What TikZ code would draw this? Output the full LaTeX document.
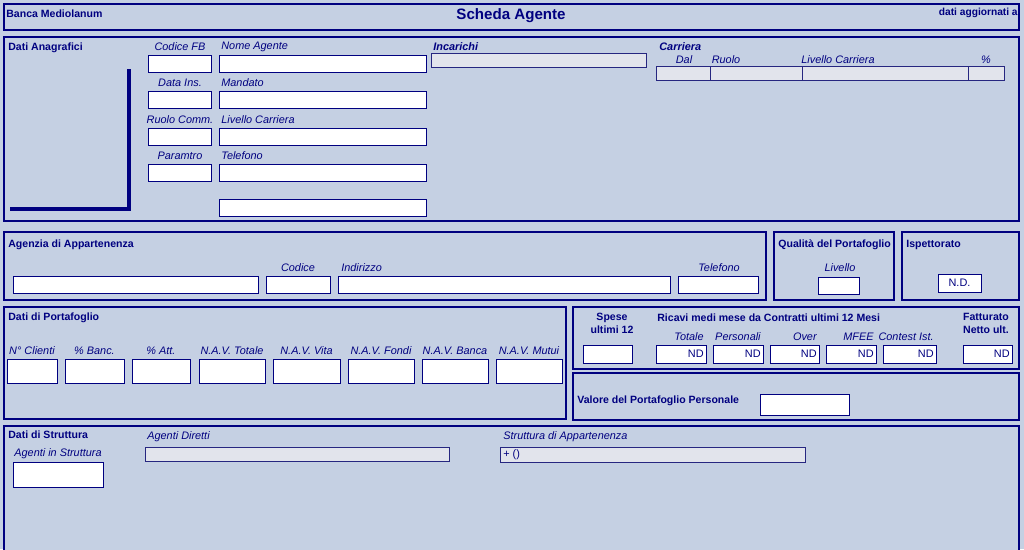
\documentclass[tikz,border=0pt]{standalone}
\usepackage{fontspec}
\setmainfont{Liberation Sans}
\definecolor{navy}{HTML}{000080}
\definecolor{panelbg}{HTML}{C5D0E3}
\definecolor{greyfield}{HTML}{E2E4EC}
\tikzset{
  panel/.style={draw=navy, fill=panelbg, line width=0.6pt},
  field/.style={draw=navy, fill=white, line width=0.5pt},
  greybox/.style={draw=navy!70!gray, fill=greyfield, line width=0.4pt},
  lab/.style={inner sep=0pt, yshift=-1pt, text=navy, font=\fontsize{6.2}{7}\selectfont\itshape},
  head/.style={inner sep=0pt, yshift=-1pt, text=navy, font=\fontsize{6.0}{7.4}\selectfont\bfseries},
  val/.style={inner sep=0pt, text=navy, font=\fontsize{6.2}{7}\selectfont},
}
\newcommand{\fieldbox}[4]{\draw[field] (#1,#2) rectangle (#3,#4);}
\begin{document}
\begin{tikzpicture}[x=0.02cm, y=-0.02cm]
\useasboundingbox (0,0) rectangle (1024,549);
\fill[panelbg] (0,0) rectangle (1024,549);
% header
\draw[panel] (4,4) rectangle (1019,30);
\node[head, anchor=west] (bank) at (6,12) {Banca Mediolanum};
\node[head, font=\fontsize{8.6}{10}\selectfont\bfseries] (title) at (511,14) {Scheda Agente};
\node[head, anchor=east, font=\fontsize{5.8}{7}\selectfont\bfseries] (aggiorn) at (1018,11) {dati aggiornati a};
% dati anagrafici
\draw[panel] (4,37) rectangle (1019,221);
\node[head, anchor=west] (anag) at (8,46) {Dati Anagrafici};
\draw[navy, line width=1.8pt] (129,69) -- (129,209) -- (10,209);
\foreach \y/\ls/\ll in {55/Codice FB/Nome Agente, 91/Data Ins./Mandato, 128/Ruolo Comm./Livello Carriera, 164/Paramtro/Telefono}{
  \node[lab] at (180,\y-10) {\ls};
  \node[lab, anchor=west] at (221,\y-10) {\ll};
  \fieldbox{148}{\y}{211}{\y+17}
  \fieldbox{219}{\y}{426}{\y+17}
}
\fieldbox{219}{199}{426}{216}
\node[lab, anchor=west, font=\fontsize{6.2}{7}\selectfont\bfseries\itshape] (inc) at (433,45) {Incarichi};
\draw[greybox] (431,53) rectangle (646,67);
\node[lab, anchor=west, font=\fontsize{6.2}{7}\selectfont\bfseries\itshape] (carr) at (659,45) {Carriera};
\node[lab] at (684,58) {Dal};
\node[lab] at (726,58) {Ruolo};
\node[lab] at (838,58) {Livello Carriera};
\node[lab] at (986,58) {\%};
\draw[greybox] (656,66) rectangle (1004,80);
\foreach \x in {710,802,968} \draw[navy!70!gray, line width=0.4pt] (\x,66) -- (\x,80);
% agenzia
\draw[panel] (4,232) rectangle (766,300);
\node[head, anchor=west] (agenz) at (8,243) {Agenzia di Appartenenza};
\node[lab] at (298,266) {Codice};
\node[lab, anchor=west] at (341,266) {Indirizzo};
\node[lab] at (719,266) {Telefono};
\fieldbox{13}{276}{258}{293}
\fieldbox{266}{276}{330}{293}
\fieldbox{338}{276}{670}{293}
\fieldbox{678}{276}{758}{293}
% qualita
\draw[panel] (774,232) rectangle (894,300);
\node[head, anchor=west] (qual) at (778,243) {Qualità del Portafoglio};
\node[lab] at (840,266) {Livello};
\fieldbox{818}{277}{859}{294}
% ispettorato
\draw[panel] (902,232) rectangle (1019,300);
\node[head, anchor=west] (isp) at (906,243) {Ispettorato};
\fieldbox{938}{274}{981}{292}
\node[val] (nd) at (959.5,283) {N.D.};
% portafoglio
\draw[panel] (4,307) rectangle (566,419);
\node[head, anchor=west] (portaf) at (8,316) {Dati di Portafoglio};
\foreach \a/\b/\t in {7/57/N° Clienti, 65/124/\% Banc., 132/190/\% Att., 199/265/N.A.V. Totale, 273/340/N.A.V. Vita, 348/414/N.A.V. Fondi, 422/488/N.A.V. Banca, 496/562/N.A.V. Mutui}{
  \node[lab] at ({(\a+\b)/2},349) {\t};
  \fieldbox{\a}{359}{\b}{383}
}
% spese e ricavi
\draw[panel] (573,307) rectangle (1019,369);
\node[head, align=center] (spese) at (612,322) {Spese\\ultimi 12};
\node[head, anchor=west] (ricavi) at (657,316) {Ricavi medi mese da Contratti ultimi 12 Mesi};
\node[head, align=center] (fatt) at (986,322) {Fatturato\\Netto ult.};
\fieldbox{583}{345}{632}{363}
\foreach \a/\b/\t in {656/706/Totale, 713/763/Personali, 770/819/Over, 826/876/MFEE, 883/936/Contest Ist., 963/1012/}{
  \node[lab, anchor=east] at (\b-2,335) {\t};
  \fieldbox{\a}{345}{\b}{363}
  \node[val, anchor=east] at (\b-2,354) {ND};
}
% valore
\draw[panel] (573,373) rectangle (1019,420);
\node[head, anchor=west] (valore) at (577,399) {Valore del Portafoglio Personale};
\fieldbox{760}{394}{849}{415}
% struttura
\draw[panel] (4,426) rectangle (1019,552);
\node[head, anchor=west] (strutt) at (8,433) {Dati di Struttura};
\node[lab] at (58,452) {Agenti in Struttura};
\fieldbox{13}{462}{103}{487}
\node[lab, anchor=west] at (147,435) {Agenti Diretti};
\draw[greybox] (145,447) rectangle (449,461);
\node[lab, anchor=west] at (503,435) {Struttura di Appartenenza};
\draw[greybox] (500,447) rectangle (805,462);
\node[val, anchor=west] (plus) at (503,454.5) {+ ()};
\end{tikzpicture}
\end{document}
